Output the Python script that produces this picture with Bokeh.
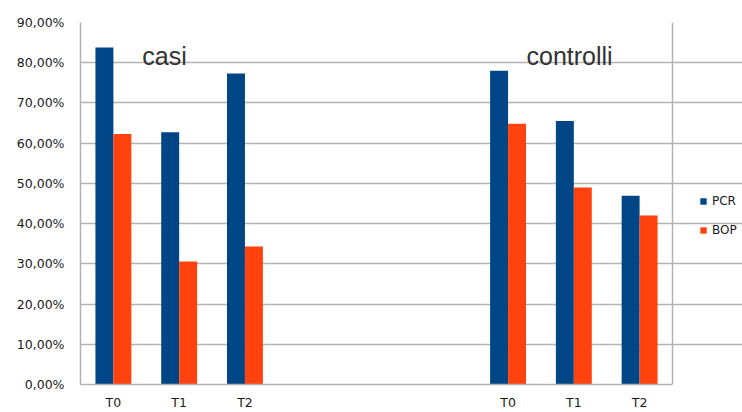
from bokeh.plotting import figure
from bokeh.models import (ColumnDataSource, Range1d, FixedTicker, Legend, LegendItem,
                          Label, Span)
from bokeh.embed import file_html
from bokeh.resources import INLINE

# ---- data ----
times = ["T0", "T1", "T2"]
groups = ["casi", "controlli"]
pcr_casi = [83.8, 62.7, 77.3]
bop_casi = [62.3, 30.6, 34.3]
pcr_controlli = [78.0, 65.5, 46.9]
bop_controlli = [64.8, 49.0, 42.0]
y_ticks = [0, 10, 20, 30, 40, 50, 60, 70, 80, 90]
y_tick_labels = ["0,00%", "10,00%", "20,00%", "30,00%", "40,00%",
                 "50,00%", "60,00%", "70,00%", "80,00%", "90,00%"]
series_names = ["PCR", "BOP"]

# ---- layout helpers ----
GAP = 3                      # empty category slots between the groups
SLOT = len(times) + GAP
BW = 0.273                   # single bar width in category units
PCR_COLOR = "#004586"
BOP_COLOR = "#ff420e"
GRID = "#b3b3b3"
FONT = "DejaVu Sans"
W, H = 742, 412
LEFT, TOP, BOTTOM = 80, 22, 27
PLOT_W = 592                 # width of the chart box in px (rest is legend room)

xs, pcr_vals, bop_vals, labels_x = [], [], [], {}
for gi, (pv, bv) in enumerate([(pcr_casi, bop_casi), (pcr_controlli, bop_controlli)]):
    for ti, t in enumerate(times):
        c = gi * SLOT + ti + 0.5
        xs.append(c)
        pcr_vals.append(pv[ti])
        bop_vals.append(bv[ti])
        labels_x[c] = t

src = ColumnDataSource(dict(
    x_pcr=[x - BW / 2 for x in xs],
    x_bop=[x + BW / 2 for x in xs],
    pcr=pcr_vals,
    bop=bop_vals,
))

n_slots = 2 * len(times) + GAP
x_end = n_slots * (W - LEFT) / PLOT_W
p = figure(width=W, height=H, output_backend="svg", toolbar_location=None,
           x_range=Range1d(0, x_end), y_range=Range1d(0, 90),
           min_border_left=LEFT, min_border_right=0, min_border_top=TOP,
           min_border_bottom=BOTTOM)
p.background_fill_color = "white"
p.border_fill_color = "white"
p.outline_line_color = None

r_pcr = p.vbar(x="x_pcr", top="pcr", width=BW, source=src,
               fill_color=PCR_COLOR, line_color=None)
r_bop = p.vbar(x="x_bop", top="bop", width=BW, source=src,
               fill_color=BOP_COLOR, line_color=None)

# axes
p.yaxis.ticker = FixedTicker(ticks=y_ticks)
p.yaxis.major_label_overrides = {t: l for t, l in zip(y_ticks, y_tick_labels)}
p.xaxis.ticker = FixedTicker(ticks=list(labels_x.keys()))
p.xaxis.major_label_overrides = labels_x
p.xaxis.bounds = (0, n_slots)
for ax in (p.xaxis[0], p.yaxis[0]):
    ax.axis_line_color = GRID
    ax.axis_line_width = 1.5
    ax.major_tick_line_color = None
    ax.minor_tick_line_color = None
    ax.major_tick_out = 0
    ax.major_tick_in = 0
    ax.major_label_text_font = FONT
    ax.major_label_text_font_size = "12.5px"
    ax.major_label_text_color = "#1a1a1a"
p.yaxis.major_label_standoff = 16
p.xaxis.major_label_standoff = 10

p.xgrid.grid_line_color = None
p.ygrid.grid_line_color = GRID
p.ygrid.grid_line_width = 1.5
p.ygrid.bounds = (0, n_slots)

# right edge of the chart box
p.add_layout(Span(location=n_slots, dimension="height", line_color=GRID,
                  line_width=1.5))

# group titles
for name, x in zip(groups, [0.94, 6.78]):
    p.add_layout(Label(x=x, y=81.6, text=name, text_font="Liberation Sans",
                       text_font_size="25px", text_color="#333333",
                       text_baseline="alphabetic"))

legend = Legend(items=[LegendItem(label=series_names[0], renderers=[r_pcr]),
                       LegendItem(label=series_names[1], renderers=[r_bop])],
                location=(619, 147), glyph_width=8, glyph_height=8,
                label_standoff=5, spacing=15, padding=0, margin=0,
                border_line_color=None, background_fill_alpha=0,
                label_text_font=FONT, label_text_font_size="12px",
                label_text_color="#1a1a1a")
p.add_layout(legend)

open("out.html", "w").write(file_html(p, INLINE))
